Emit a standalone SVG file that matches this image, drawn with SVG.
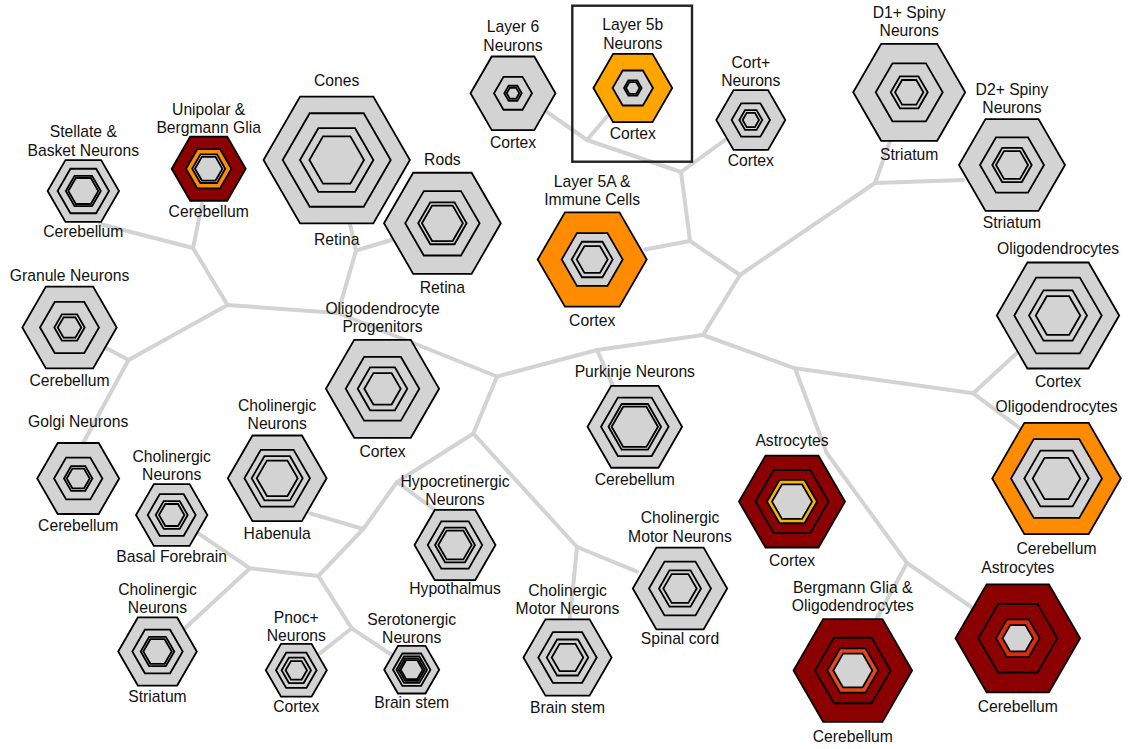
<svg xmlns="http://www.w3.org/2000/svg" xmlns:xlink="http://www.w3.org/1999/xlink" width="1129" height="749" viewBox="0 0 1129 749">
<style>
.h{stroke:#000;stroke-width:1.8;stroke-linejoin:miter;vector-effect:non-scaling-stroke}
.g{fill:#d3d3d3}.dr{fill:#8b0000}.or{fill:#ff8c00}.o5{fill:#ffa500}.gd{fill:#f7b500}.orr{fill:#e4471a}.rd{fill:#dc2a0c}
text{font-family:"Liberation Sans",Arial,Helvetica,sans-serif;font-size:15.7px;fill:#111;text-anchor:middle}
.c{fill:none;stroke:#d3d3d3;stroke-width:4;stroke-linecap:round;stroke-linejoin:round}
</style>
<defs>
<polygon id="hx" class="h" points="1,0 0.5,0.866 -0.5,0.866 -1,0 -0.5,-0.866 0.5,-0.866"/>
</defs>
<rect width="1129" height="749" fill="#fff"/>
<g id="connectors">
<polyline class="c" points="100,224 193,248 227.5,305 128.5,360 83.3,442.7"/>
<polyline class="c" points="202,204 193,248"/>
<polyline class="c" points="106.7,348.3 128.5,360"/>
<polyline class="c" points="227.5,305 338,313 497,376.5 597,350 703,335 740,275 690,241 681,172 587,140 547,112"/>
<polyline class="c" points="350,224 356,250.5 338,313"/>
<polyline class="c" points="393,239.5 356,250.5"/>
<polyline class="c" points="597,350 613,386"/>
<polyline class="c" points="690,241 645,249.5"/>
<polyline class="c" points="587,140 607,116.5"/>
<polyline class="c" points="681,172 727,138.5"/>
<polyline class="c" points="740,275 875,183 890,141"/>
<polyline class="c" points="875,183 963,180"/>
<polyline class="c" points="703,335 795,368.3 973.3,393.3 1016.7,353.3"/>
<polyline class="c" points="973.3,393.3 1020,428.3"/>
<polyline class="c" points="795,368.3 826.7,453 907,563 877,618"/>
<polyline class="c" points="907,563 973.3,608.3"/>
<polyline class="c" points="497,376.5 473.3,433.5 577,547 637,571.7"/>
<polyline class="c" points="577,547 570,618"/>
<polyline class="c" points="473.3,433.5 397,482 363.3,529 318.3,576 250,568.3 185,628.3"/>
<polyline class="c" points="397,482 435,510"/>
<polyline class="c" points="310,513.3 363.3,529"/>
<polyline class="c" points="198.3,533.3 250,568.3"/>
<polyline class="c" points="318.3,576 351.7,628.3 320,653.3"/>
<polyline class="c" points="351.7,628.3 391.7,655"/>
</g>
<g id="n-stellate">
<use href="#hx" class="g" transform="translate(83.3 191) scale(35.7)"/>
<use href="#hx" class="g" transform="translate(83.3 191) scale(25.7)"/>
<use href="#hx" class="g" transform="translate(83.3 191) scale(17.5)"/>
<use href="#hx" class="g" transform="translate(83.3 191) scale(15)"/>
<text x="83.3" y="137">Stellate &amp;</text><text x="83.3" y="155.5">Basket Neurons</text><text x="83.3" y="237">Cerebellum</text>
</g>
<g id="n-unipolar">
<use href="#hx" class="dr" transform="translate(208.7 168.7) scale(37)"/>
<use href="#hx" class="or" transform="translate(208.7 168.7) scale(22.7)"/>
<use href="#hx" class="g" transform="translate(208.7 168.7) scale(16.5)"/>
<use href="#hx" class="g" transform="translate(208.7 168.7) scale(13.7)"/>
<text x="208.7" y="114.5">Unipolar &amp;</text><text x="208.7" y="133">Bergmann Glia</text><text x="208.7" y="217">Cerebellum</text>
</g>
<g id="n-cones">
<use href="#hx" class="g" transform="translate(336.7 160) scale(73.2)"/>
<use href="#hx" class="g" transform="translate(336.7 160) scale(54)"/>
<use href="#hx" class="g" transform="translate(336.7 160) scale(36.7)"/>
<use href="#hx" class="g" transform="translate(336.7 160) scale(27.3)"/>
<text x="336.7" y="86">Cones</text><text x="336.7" y="245">Retina</text>
</g>
<g id="n-rods">
<use href="#hx" class="g" transform="translate(442.4 223.3) scale(58.4)"/>
<use href="#hx" class="g" transform="translate(442.4 223.3) scale(37.2)"/>
<use href="#hx" class="g" transform="translate(442.4 223.3) scale(24.2)"/>
<use href="#hx" class="g" transform="translate(442.4 223.3) scale(20.5)"/>
<text x="442.4" y="165">Rods</text><text x="442.4" y="293">Retina</text>
</g>
<g id="n-layer6">
<use href="#hx" class="g" transform="translate(513 93.3) scale(42.5)"/>
<use href="#hx" class="g" transform="translate(513 93.3) scale(19)"/>
<use href="#hx" class="g" transform="translate(513 93.3) scale(8.7)"/>
<use href="#hx" class="g" transform="translate(513 93.3) scale(6.3)"/>
<text x="513" y="32.3">Layer 6</text><text x="513" y="51">Neurons</text><text x="513" y="147.7">Cortex</text>
</g>
<g id="n-layer5b">
<rect x="572.3" y="5.7" width="119.7" height="156" fill="none" stroke="#222" stroke-width="2.4"/>
<use href="#hx" class="o5" transform="translate(632.8 88) scale(39.4)"/>
<use href="#hx" class="g" transform="translate(632.8 88) scale(20.2)"/>
<use href="#hx" class="g" transform="translate(632.8 88) scale(8.8)"/>
<use href="#hx" class="g" transform="translate(632.8 88) scale(6.8)"/>
<text x="632.8" y="30">Layer 5b</text><text x="632.8" y="49">Neurons</text><text x="632.8" y="139.3">Cortex</text>
</g>
<g id="n-cortplus">
<use href="#hx" class="g" transform="translate(750.8 120) scale(34.5)"/>
<use href="#hx" class="g" transform="translate(750.8 120) scale(19.2)"/>
<use href="#hx" class="g" transform="translate(750.8 120) scale(11.5)"/>
<use href="#hx" class="g" transform="translate(750.8 120) scale(8.2)"/>
<text x="750.8" y="67.7">Cort+</text><text x="750.8" y="86.3">Neurons</text><text x="750.8" y="166">Cortex</text>
</g>
<g id="n-layer5a">
<use href="#hx" class="or" transform="translate(592.2 259.5) scale(54.5)"/>
<use href="#hx" class="g" transform="translate(592.2 259.5) scale(30.5)"/>
<use href="#hx" class="g" transform="translate(592.2 259.5) scale(20.5)"/>
<use href="#hx" class="g" transform="translate(592.2 259.5) scale(15.5)"/>
<text x="592.2" y="187.3">Layer 5A &amp;</text><text x="592.2" y="205">Immune Cells</text><text x="592.2" y="326">Cortex</text>
</g>
<g id="n-d1">
<use href="#hx" class="g" transform="translate(909.2 92.3) scale(56)"/>
<use href="#hx" class="g" transform="translate(909.2 92.3) scale(33.5)"/>
<use href="#hx" class="g" transform="translate(909.2 92.3) scale(18.5)"/>
<use href="#hx" class="g" transform="translate(909.2 92.3) scale(14.2)"/>
<text x="909.2" y="18.3">D1+ Spiny</text><text x="909.2" y="36">Neurons</text><text x="909.2" y="160">Striatum</text>
</g>
<g id="n-d2">
<use href="#hx" class="g" transform="translate(1012 165) scale(53)"/>
<use href="#hx" class="g" transform="translate(1012 165) scale(32)"/>
<use href="#hx" class="g" transform="translate(1012 165) scale(19.7)"/>
<use href="#hx" class="g" transform="translate(1012 165) scale(16)"/>
<text x="1012" y="95">D2+ Spiny</text><text x="1012" y="112.7">Neurons</text><text x="1012" y="228.3">Striatum</text>
</g>
<g id="n-oligo-cortex">
<use href="#hx" class="g" transform="translate(1058 315.5) scale(61.2)"/>
<use href="#hx" class="g" transform="translate(1058 315.5) scale(43.7)"/>
<use href="#hx" class="g" transform="translate(1058 315.5) scale(29)"/>
<use href="#hx" class="g" transform="translate(1058 315.5) scale(22.3)"/>
<text x="1058" y="254.3">Oligodendrocytes</text><text x="1058" y="386.7">Cortex</text>
</g>
<g id="n-granule">
<use href="#hx" class="g" transform="translate(69.5 327.5) scale(47.2)"/>
<use href="#hx" class="g" transform="translate(69.5 327.5) scale(29.5)"/>
<use href="#hx" class="g" transform="translate(69.5 327.5) scale(15.2)"/>
<use href="#hx" class="g" transform="translate(69.5 327.5) scale(11.8)"/>
<text x="69.5" y="280.7">Granule Neurons</text><text x="69.5" y="386">Cerebellum</text>
</g>
<g id="n-golgi">
<use href="#hx" class="g" transform="translate(78.2 478.5) scale(41)"/>
<use href="#hx" class="g" transform="translate(78.2 478.5) scale(24.2)"/>
<use href="#hx" class="g" transform="translate(78.2 478.5) scale(14.2)"/>
<use href="#hx" class="g" transform="translate(78.2 478.5) scale(11.5)"/>
<text x="78.2" y="426.7">Golgi Neurons</text><text x="78.2" y="530.7">Cerebellum</text>
</g>
<g id="n-chol-bf">
<use href="#hx" class="g" transform="translate(171.7 515) scale(35.7)"/>
<use href="#hx" class="g" transform="translate(171.7 515) scale(24)"/>
<use href="#hx" class="g" transform="translate(171.7 515) scale(16)"/>
<use href="#hx" class="g" transform="translate(171.7 515) scale(12.7)"/>
<text x="171.7" y="461.7">Cholinergic</text><text x="171.7" y="480">Neurons</text><text x="171.7" y="561.7">Basal Forebrain</text>
</g>
<g id="n-chol-hab">
<use href="#hx" class="g" transform="translate(277.2 478.3) scale(49.4)"/>
<use href="#hx" class="g" transform="translate(277.2 478.3) scale(32.8)"/>
<use href="#hx" class="g" transform="translate(277.2 478.3) scale(25.5)"/>
<use href="#hx" class="g" transform="translate(277.2 478.3) scale(20.5)"/>
<text x="277.2" y="410.7">Cholinergic</text><text x="277.2" y="429.3">Neurons</text><text x="277.2" y="539.3">Habenula</text>
</g>
<g id="n-opc">
<use href="#hx" class="g" transform="translate(382.5 388.8) scale(56.6)"/>
<use href="#hx" class="g" transform="translate(382.5 388.8) scale(36.8)"/>
<use href="#hx" class="g" transform="translate(382.5 388.8) scale(24.8)"/>
<use href="#hx" class="g" transform="translate(382.5 388.8) scale(18.2)"/>
<text x="382.5" y="314">Oligodendrocyte</text><text x="382.5" y="331.7">Progenitors</text><text x="382.5" y="457.3">Cortex</text>
</g>
<g id="n-chol-str">
<use href="#hx" class="g" transform="translate(157.5 651.5) scale(39.3)"/>
<use href="#hx" class="g" transform="translate(157.5 651.5) scale(25.2)"/>
<use href="#hx" class="g" transform="translate(157.5 651.5) scale(16.8)"/>
<use href="#hx" class="g" transform="translate(157.5 651.5) scale(14.2)"/>
<text x="157.5" y="595">Cholinergic</text><text x="157.5" y="613.3">Neurons</text><text x="157.5" y="702.3">Striatum</text>
</g>
<g id="n-pnoc">
<use href="#hx" class="g" transform="translate(296.3 670.3) scale(30.5)"/>
<use href="#hx" class="g" transform="translate(296.3 670.3) scale(20.3)"/>
<use href="#hx" class="g" transform="translate(296.3 670.3) scale(14.7)"/>
<use href="#hx" class="g" transform="translate(296.3 670.3) scale(10.7)"/>
<text x="296.3" y="623.3">Pnoc+</text><text x="296.3" y="641">Neurons</text><text x="296.3" y="711.7">Cortex</text>
</g>
<g id="n-serotonergic">
<use href="#hx" class="g" transform="translate(411.7 669.7) scale(27.5)"/>
<use href="#hx" class="g" transform="translate(411.7 669.7) scale(18.7)"/>
<use href="#hx" class="g" transform="translate(411.7 669.7) scale(15.3)"/>
<use href="#hx" class="g" transform="translate(411.7 669.7) scale(13)"/>
<use href="#hx" class="g" transform="translate(411.7 669.7) scale(11)"/>
<text x="411.7" y="625">Serotonergic</text><text x="411.7" y="643.3">Neurons</text><text x="411.7" y="708.3">Brain stem</text>
</g>
<g id="n-hypocretinergic">
<use href="#hx" class="g" transform="translate(455 545) scale(40.5)"/>
<use href="#hx" class="g" transform="translate(455 545) scale(27.3)"/>
<use href="#hx" class="g" transform="translate(455 545) scale(20)"/>
<use href="#hx" class="g" transform="translate(455 545) scale(16.7)"/>
<text x="455" y="486.7">Hypocretinergic</text><text x="455" y="505">Neurons</text><text x="455" y="594">Hypothalmus</text>
</g>
<g id="n-purkinje">
<use href="#hx" class="g" transform="translate(634.8 426.8) scale(47.3)"/>
<use href="#hx" class="g" transform="translate(634.8 426.8) scale(33.8)"/>
<use href="#hx" class="g" transform="translate(634.8 426.8) scale(26.3)"/>
<use href="#hx" class="g" transform="translate(634.8 426.8) scale(23.2)"/>
<text x="634.8" y="377.3">Purkinje Neurons</text><text x="634.8" y="485">Cerebellum</text>
</g>
<g id="n-motor-spinal">
<use href="#hx" class="g" transform="translate(680 588.5) scale(47.2)"/>
<use href="#hx" class="g" transform="translate(680 588.5) scale(31)"/>
<use href="#hx" class="g" transform="translate(680 588.5) scale(21)"/>
<use href="#hx" class="g" transform="translate(680 588.5) scale(16.7)"/>
<text x="680" y="522.7">Cholinergic</text><text x="680" y="541.7">Motor Neurons</text><text x="680" y="644.3">Spinal cord</text>
</g>
<g id="n-motor-brainstem">
<use href="#hx" class="g" transform="translate(567.5 657.5) scale(44.1)"/>
<use href="#hx" class="g" transform="translate(567.5 657.5) scale(29.2)"/>
<use href="#hx" class="g" transform="translate(567.5 657.5) scale(20.8)"/>
<use href="#hx" class="g" transform="translate(567.5 657.5) scale(15.8)"/>
<text x="567.5" y="596">Cholinergic</text><text x="567.5" y="614.3">Motor Neurons</text><text x="567.5" y="713.3">Brain stem</text>
</g>
<g id="n-astro-cortex">
<use href="#hx" class="dr" transform="translate(792 501.6) scale(53)"/>
<use href="#hx" class="dr" transform="translate(792 501.6) scale(36.5)"/>
<use href="#hx" class="gd" transform="translate(792 501.6) scale(25)"/>
<use href="#hx" class="g" transform="translate(792 501.6) scale(20)"/>
<text x="792" y="445.7">Astrocytes</text><text x="792" y="566">Cortex</text>
</g>
<g id="n-oligo-cerebellum">
<use href="#hx" class="or" transform="translate(1056.5 478.5) scale(64.3)"/>
<use href="#hx" class="g" transform="translate(1056.5 478.5) scale(45.5)"/>
<use href="#hx" class="g" transform="translate(1056.5 478.5) scale(32.2)"/>
<use href="#hx" class="g" transform="translate(1056.5 478.5) scale(23.8)"/>
<text x="1056.5" y="411.7">Oligodendrocytes</text><text x="1056.5" y="554.3">Cerebellum</text>
</g>
<g id="n-bergmann-oligo">
<use href="#hx" class="dr" transform="translate(852.8 670.5) scale(59.3)"/>
<use href="#hx" class="dr" transform="translate(852.8 670.5) scale(37.8)"/>
<use href="#hx" class="orr" transform="translate(852.8 670.5) scale(25.5)"/>
<use href="#hx" class="g" transform="translate(852.8 670.5) scale(19.5)"/>
<text x="852.8" y="592.7">Bergmann Glia &amp;</text><text x="852.8" y="610.7">Oligodendrocytes</text><text x="852.8" y="741.7">Cerebellum</text>
</g>
<g id="n-astro-cerebellum">
<use href="#hx" class="dr" transform="translate(1017.8 638.3) scale(62.3)"/>
<use href="#hx" class="dr" transform="translate(1017.8 638.3) scale(39.5)"/>
<use href="#hx" class="rd" transform="translate(1017.8 638.3) scale(21.8)"/>
<use href="#hx" class="g" transform="translate(1017.8 638.3) scale(15.2)"/>
<text x="1017.8" y="573.3">Astrocytes</text><text x="1017.8" y="711.7">Cerebellum</text>
</g>
</svg>
